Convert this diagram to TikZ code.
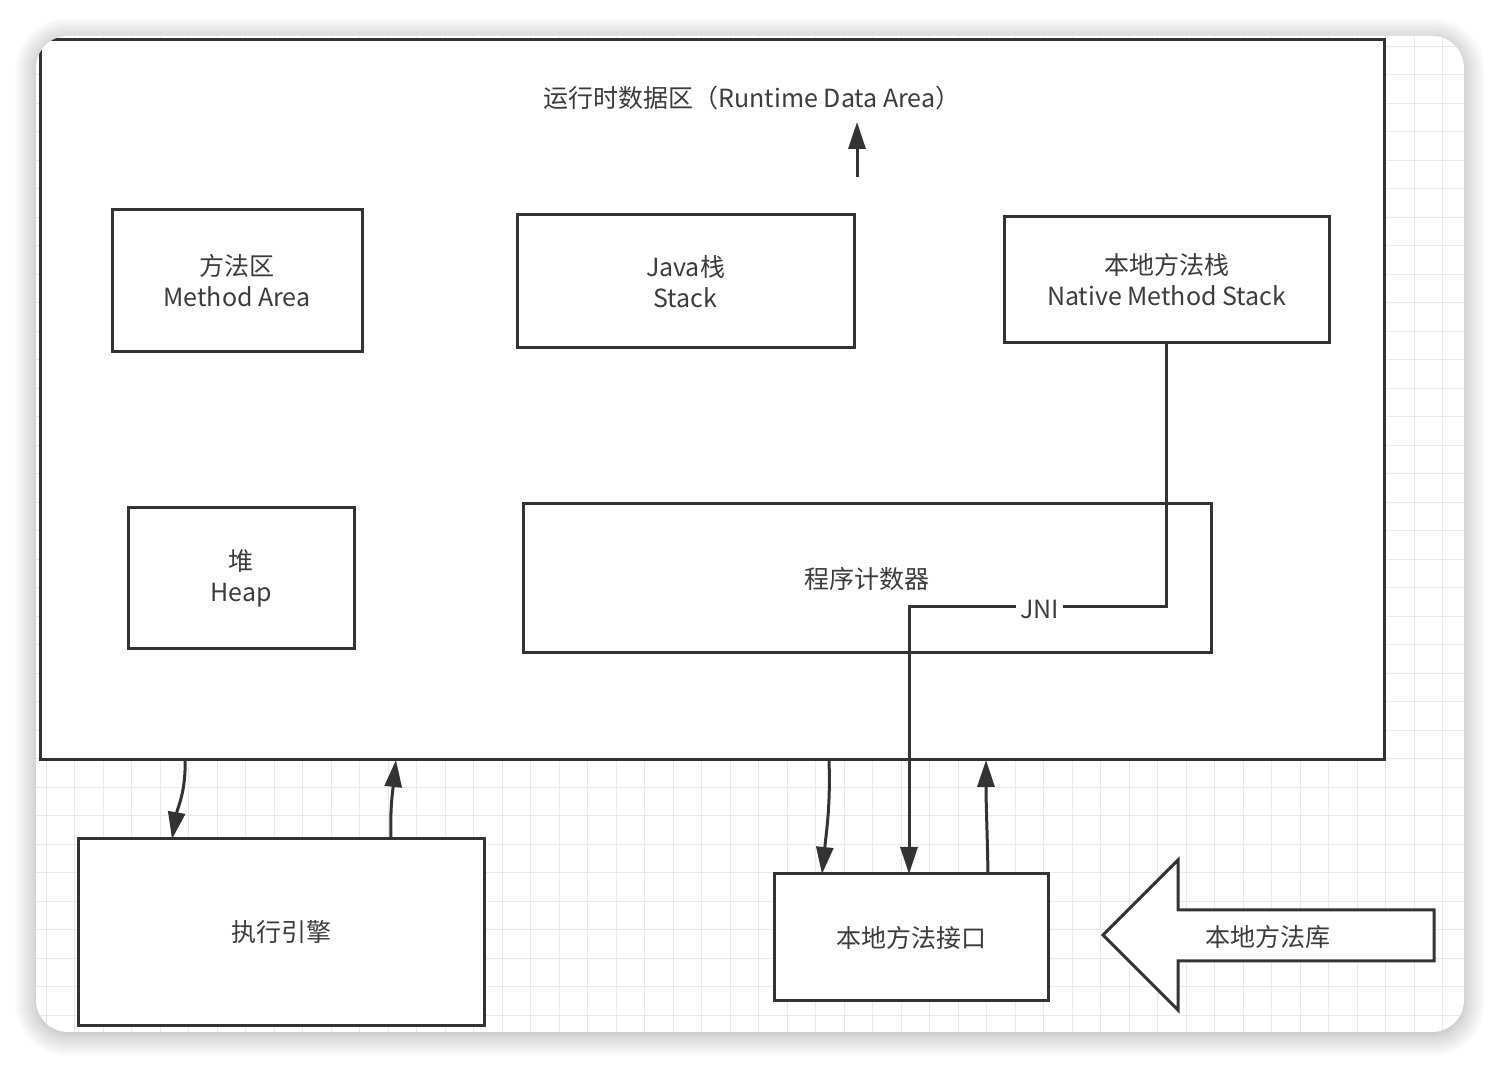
\documentclass[tikz,border=0pt]{standalone}
\usepackage{fontspec}
\setmainfont{Noto Sans CJK SC}
\usetikzlibrary{arrows.meta,calc,shadows.blur}
\definecolor{linegray}{HTML}{333333}
\definecolor{textgray}{HTML}{3C3C3C}
\definecolor{gridgray}{HTML}{E9E9E9}
\begin{document}
\begin{tikzpicture}[x=1pt, y=1pt,
    area/.style={draw=linegray, line width=3pt, fill=white, inner sep=0pt, outer sep=0pt, text=textgray, align=center, font=\fontsize{25pt}{31pt}\selectfont},
    areatitle/.style={inner sep=0pt, text=textgray, font=\fontsize{25pt}{31pt}\selectfont},
    flow/.style={draw=linegray, line width=3pt, -{Triangle[length=27pt, width=17pt]}},
    gridline/.style={draw=gridgray, line width=1pt}]
    \useasboundingbox (0,0) rectangle (1500,1068);
    \fill[white, rounded corners=32pt, blur shadow={shadow xshift=0pt, shadow yshift=-3pt, shadow blur radius=22pt, shadow blur steps=18, shadow opacity=35}] (36,36) rectangle (1464,1032);
    \begin{scope}
    \clip[rounded corners=32pt] (36,36) rectangle (1464,1032);
    \foreach \gx in {17.5,46,...,1464} \draw[gridline] (\gx,36) -- (\gx,1032);
    \foreach \gy in {24,52.5,...,1032} \draw[gridline] (36,\gy) -- (1464,\gy);
    \node[area, minimum width=1344pt, minimum height=720pt] (rda) at (712,668) {};
    \node[areatitle] (rdatitle) at (752,970) {运行时数据区（Runtime Data Area）};
    \coordinate (upfoot) at (857,891);
    \coordinate (uptip) at (857,946);
    \draw[flow] (upfoot) -- (uptip);
    \node[area, minimum width=250pt, minimum height=142pt] (ma) at (237,787) {方法区\\Method Area};
    \node[area, minimum width=337pt, minimum height=133pt] (js) at (685.5,786.5) {Java栈\\Stack};
    \node[area, minimum width=325pt, minimum height=126pt] (nms) at (1166.5,788) {本地方法栈\\Native Method Stack};
    \node[area, minimum width=226pt, minimum height=141pt] (heap) at (241,489.5) {堆\\Heap};
    \node[area, minimum width=688pt, minimum height=149pt] (pc) at (867,489.5) {程序计数器};
    \node[area, minimum width=406pt, minimum height=187pt] (ee) at (281,135.5) {执行引擎};
    \node[area, minimum width=274pt, minimum height=127pt] (nmi) at (911,130.5) {本地方法接口};
    \draw[area] (1103,133) -- (1178,208) -- (1178,158) -- (1434,158) -- (1434,107) -- (1178,107) -- (1178,58) -- cycle;
    \node[areatitle] (lib) at (1268,131) {本地方法库};
    \coordinate (jnibend) at (909,461);
    \draw[flow] (nms.south) |- (jnibend) node[pos=0.746, fill=white, inner sep=4pt, yshift=-3pt, text=textgray, font=\fontsize{25pt}{31pt}\selectfont] {JNI} -- (jnibend |- nmi.north);
    \draw[flow] ($(rda.south west)+(145,0)$) to[out=-88, in=80] ($(ee.north west)+(94,0)$);
    \draw[flow] ($(ee.north west)+(313,0)$) to[out=92, in=-96] ($(rda.south west)+(356,0)$);
    \draw[flow] ($(rda.south west)+(789,0)$) to[out=-88, in=84] ($(nmi.north west)+(48,0)$);
    \draw[flow] ($(nmi.north west)+(214,0)$) to[out=91, in=-90] ($(rda.south west)+(946,0)$);
    \end{scope}
\end{tikzpicture}
\end{document}
